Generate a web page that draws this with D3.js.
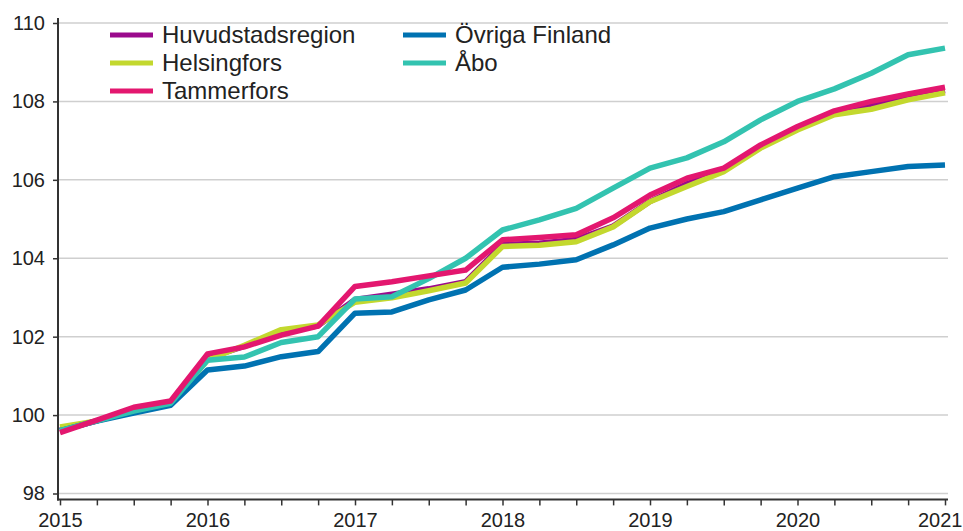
<!DOCTYPE html>
<html>
<head>
<meta charset="utf-8">
<script src="https://cdn.jsdelivr.net/npm/d3@7"></script>
<style>
  body { margin: 0; background: #fff; }
  svg { display: block; font-family: "Liberation Sans", Arial, sans-serif; }
</style>
</head>
<body>
<svg id="chart" width="963" height="531"></svg>
<script>
//
// Data: quarterly index, 2015Q1 .. 2021Q1
//
var years = [2015, 2016, 2017, 2018, 2019, 2020, 2021];
var yTicks = [98, 100, 102, 104, 106, 108, 110];

var huvudstadsregion = [99.62, 99.85, 100.15, 100.33, 101.45, 101.75, 102.1, 102.28, 102.95, 103.08, 103.22, 103.4,
    104.35, 104.38, 104.48, 104.82, 105.45, 105.9, 106.25, 106.85, 107.3, 107.7, 107.88, 108.1, 108.28];
var helsingfors = [99.7, 99.85, 100.1, 100.3, 101.4, 101.78, 102.18, 102.3, 102.88, 102.99, 103.17, 103.37,
    104.3, 104.33, 104.42, 104.8, 105.44, 105.83, 106.21, 106.81, 107.27, 107.66, 107.8, 108.04, 108.22];
var tammerfors = [99.55, 99.87, 100.2, 100.36, 101.56, 101.74, 102.04, 102.27, 103.28, 103.4, 103.55, 103.7,
    104.47, 104.53, 104.6, 105.03, 105.61, 106.04, 106.3, 106.89, 107.36, 107.76, 108.0, 108.19, 108.36];
var ovrigaFinland = [99.6, 99.85, 100.05, 100.25, 101.15, 101.25, 101.49, 101.62, 102.6, 102.63, 102.94, 103.19,
    103.77, 103.85, 103.96, 104.34, 104.77, 105.0, 105.19, 105.49, 105.79, 106.08, 106.21, 106.34, 106.38];
var abo = [99.6, 99.85, 100.1, 100.3, 101.4, 101.48, 101.85, 102.0, 102.96, 103.02, 103.48, 104.0,
    104.72, 104.98, 105.27, 105.79, 106.3, 106.56, 106.97, 107.53, 108.0, 108.32, 108.72, 109.19, 109.36];

var series = [
    {name: "Huvudstadsregion", color: "#9b0a8c", values: huvudstadsregion},
    {name: "Helsingfors", color: "#c3d82e", values: helsingfors},
    {name: "Tammerfors", color: "#e3176f", values: tammerfors},
    {name: "Övriga Finland", color: "#0072b1", values: ovrigaFinland},
    {name: "Åbo", color: "#33c3b0", values: abo}
];
// draw order: pink ends up on top
var drawOrder = ["Huvudstadsregion", "Helsingfors", "Övriga Finland", "Åbo", "Tammerfors"];

//
// Scales
//
var nQ = huvudstadsregion.length;
var x = d3.scaleLinear().domain([0, nQ - 1]).range([60, 945]);
var y = d3.scaleLinear().domain([98, 110]).range([493.5, 23]);

var svg = d3.select("#chart");
var axisY = y(97.85);

// gridlines
svg.append("g")
    .selectAll("line")
    .data(yTicks)
    .enter()
    .append("line")
    .attr("x1", 58).attr("x2", 948)
    .attr("y1", function (d) { return y(d); })
    .attr("y2", function (d) { return y(d); })
    .style("stroke", "#cfcfcf")
    .style("stroke-width", 1.5);

// y axis
var yAxis = svg.append("g")
    .attr("transform", "translate(58,0)")
    .call(d3.axisLeft(y).tickValues(yTicks).tickSize(5).tickPadding(8).tickFormat(d3.format("d")));
yAxis.select(".domain").remove();
yAxis.append("line")
    .attr("x1", 0).attr("x2", 0)
    .attr("y1", 18).attr("y2", axisY + 1)
    .style("stroke", "#333").style("stroke-width", 2);

// x axis
var quarters = d3.range(nQ);
var xAxis = svg.append("g")
    .attr("transform", "translate(0," + axisY + ")")
    .call(d3.axisBottom(x).tickValues(quarters).tickSize(6).tickPadding(7)
        .tickFormat(function (d) { return d % 4 === 0 ? years[d / 4] : ""; }));
xAxis.select(".domain").remove();
xAxis.append("line")
    .attr("x1", 57).attr("x2", 948)
    .attr("y1", 0).attr("y2", 0)
    .style("stroke", "#333").style("stroke-width", 2);

svg.selectAll(".tick line").style("stroke", "#333").style("stroke-width", 1.5);
svg.selectAll(".tick text").style("font-size", "20px").style("fill", "#222")
    .style("font-family", "'Liberation Sans', Arial, sans-serif");
// last year label kept inside the picture
xAxis.selectAll(".tick text")
    .filter(function (d) { return d === nQ - 1; })
    .attr("text-anchor", "end")
    .attr("x", 17);

// lines
var line = d3.line()
    .x(function (d, i) { return x(i); })
    .y(function (d) { return y(d); });

svg.append("g")
    .selectAll("path")
    .data(drawOrder.map(function (n) { return series.find(function (s) { return s.name === n; }); }))
    .enter()
    .append("path")
    .attr("d", function (d) { return line(d.values); })
    .style("fill", "none")
    .style("stroke", function (d) { return d.color; })
    .style("stroke-width", 5.5)
    .style("stroke-linejoin", "round");

// legend
var legendPos = [[110, 35], [110, 63], [110, 91], [403, 35], [403, 63]];
var legend = svg.append("g")
    .selectAll("g")
    .data(series)
    .enter()
    .append("g")
    .attr("transform", function (d, i) { return "translate(" + legendPos[i][0] + "," + legendPos[i][1] + ")"; });

legend.append("line")
    .attr("x1", 0).attr("x2", 43)
    .style("stroke", function (d) { return d.color; })
    .style("stroke-width", 5);

legend.append("text")
    .attr("x", 52)
    .attr("dy", "0.35em")
    .style("font-size", "24px")
    .style("fill", "#222")
    .text(function (d) { return d.name; });
</script>
</body>
</html>
